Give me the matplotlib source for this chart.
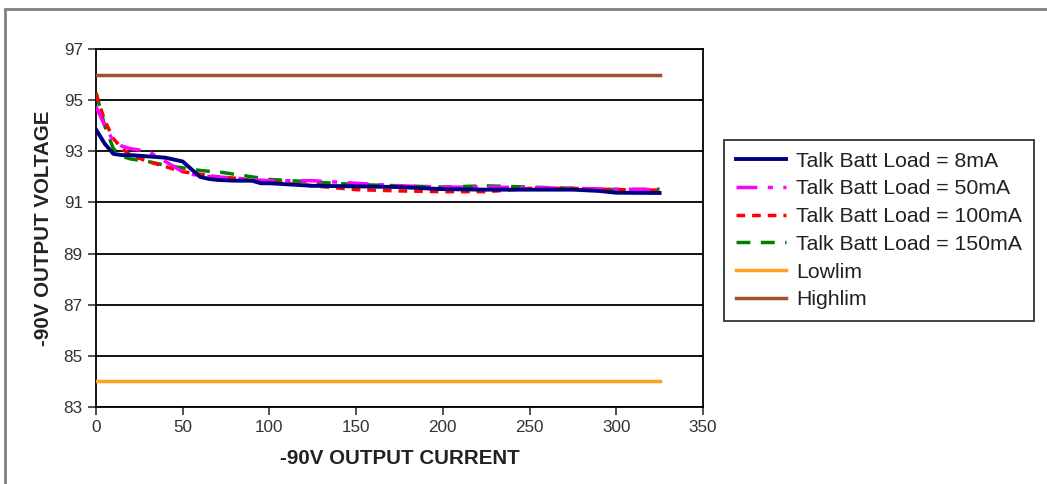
import numpy as np
import matplotlib.pyplot as plt
from matplotlib.patches import Rectangle

plt.rcParams['font.family'] = ['Liberation Sans', 'DejaVu Sans']

# current (mA) sample points
cur = [0, 5, 10, 15, 20, 30, 40, 50, 55, 60, 65, 70, 80, 90, 95, 100,
       125, 150, 175, 200, 225, 250, 275, 290, 300, 325]
v8 = [93.85, 93.3, 92.9, 92.85, 92.85, 92.8, 92.75, 92.6, 92.3, 92.0, 91.92, 91.88,
      91.85, 91.85, 91.75, 91.75, 91.65, 91.63, 91.6, 91.52, 91.5, 91.5, 91.5,
      91.45, 91.38, 91.37]
v50 = [94.75, 94.0, 93.4, 93.2, 93.1, 93.0, 92.6, 92.2, 92.1, 92.05, 92.02, 92.0,
       91.95, 91.9, 91.87, 91.85, 91.85, 91.75, 91.65, 91.6, 91.6, 91.58, 91.55,
       91.53, 91.52, 91.5]
v100 = [95.25, 94.2, 93.5, 93.1, 92.85, 92.6, 92.4, 92.2, 92.15, 92.1, 92.05, 92.0,
        91.95, 91.85, 91.82, 91.8, 91.65, 91.5, 91.45, 91.42, 91.42, 91.55, 91.55,
        91.52, 91.5, 91.48]
v150 = [95.3, 94.0, 93.1, 92.8, 92.7, 92.6, 92.45, 92.35, 92.3, 92.25, 92.22, 92.2,
        92.1, 92.0, 91.95, 91.9, 91.8, 91.7, 91.65, 91.6, 91.65, 91.6, 91.55,
        91.52, 91.5, 91.52]
lim_x = [0, 325]
lowlim = [84, 84]
highlim = [96, 96]

fig = plt.figure(figsize=(10.47, 4.84), dpi=100)
ax = fig.add_axes([0.0917, 0.159, 0.5797, 0.7398])

ax.plot(cur, v8, color='#000080', lw=2.8, label='Talk Batt Load = 8mA', zorder=6)
ax.plot(cur, v50, color='#ff00ff', lw=2.5, dashes=(6, 3, 1.5, 3), label='Talk Batt Load = 50mA', zorder=5)
ax.plot(cur, v100, color='#ff0000', lw=2.5, dashes=(2.5, 2), label='Talk Batt Load = 100mA', zorder=4)
ax.plot(cur, v150, color='#008000', lw=2.5, dashes=(4, 3), label='Talk Batt Load = 150mA', zorder=3)
ax.plot(lim_x, lowlim, color='#ffa020', lw=2.5, label='Lowlim', zorder=3)
ax.plot(lim_x, highlim, color='#a0522d', lw=2.5, label='Highlim', zorder=3)

ax.set_xlim(0, 350)
ax.set_ylim(83, 97)
ax.set_xticks(range(0, 351, 50))
ax.set_yticks(range(83, 98, 2))
ax.yaxis.grid(True, color='black', lw=1.3)
ax.set_axisbelow(True)
for s in ax.spines.values():
    s.set_linewidth(1.3)
ax.tick_params(direction='out', length=6, width=1.2, labelsize=12.3, colors='#333333')

ax.set_xlabel('-90V OUTPUT CURRENT', fontsize=14.8, fontweight='bold', labelpad=10, color='#222222')
ax.set_ylabel('-90V OUTPUT VOLTAGE', fontsize=14.8, fontweight='bold', labelpad=8, color='#222222')

leg = fig.legend(loc='upper left', bbox_to_anchor=(724 / 1047, 1 - 140 / 484),
                 borderaxespad=0, frameon=True, fancybox=False, edgecolor='black',
                 fontsize=15.3, handlelength=2.35, labelspacing=0.41, borderpad=0.55,
                 handletextpad=0.5)
leg.get_frame().set_linewidth(1.3)
for t in leg.get_texts():
    t.set_color('#222222')

# outer chart border
fig.add_artist(Rectangle((5 / 1047, -0.1), 1.2, 1.1 - 9 / 484, transform=fig.transFigure,
                         fill=False, edgecolor='#808080', lw=2))

fig.savefig('out.png', dpi=100)
